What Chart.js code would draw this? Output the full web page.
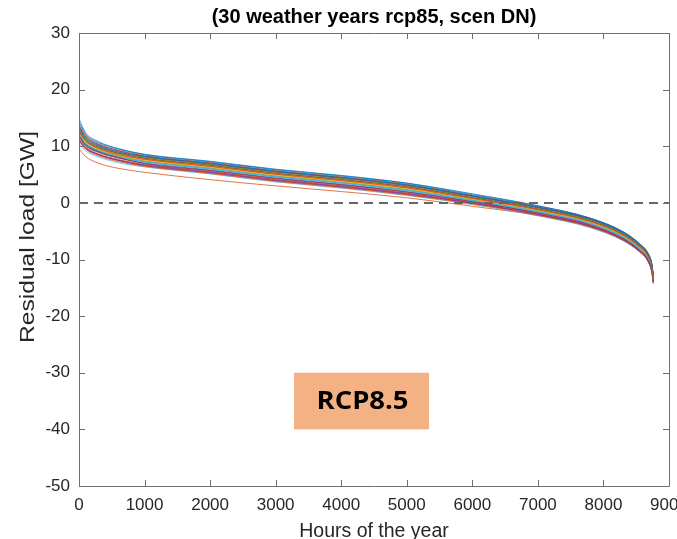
<!DOCTYPE html>
<html>
<head>
<meta charset="utf-8">
<script src="https://cdn.jsdelivr.net/npm/chart.js@4/dist/chart.umd.min.js"></script>
<style>
  html, body { margin: 0; padding: 0; background: #ffffff; }
  #wrap { width: 677px; height: 539px; position: relative; }
</style>
</head>
<body>
<div id="wrap"><canvas id="c" width="677" height="539"></canvas></div>
<script>
// Sorted residual load (duration curves), one curve per weather year
const HOURS = [0, 100, 300, 600, 1000, 2000, 3000, 4000, 5000, 6000, 7000, 7800, 8300, 8550, 8680, 8740, 8760];

const weatherYears = [
  [14.8, 12.4, 10.8, 9.6, 8.6, 7.35, 5.95, 4.85, 3.5, 1.6, -0.5, -2.7, -5.1, -7.2, -8.9, -10.9, -12.8],
  [9.6, 8.2, 7.0, 6.1, 5.4, 4.1, 3.0, 2.0, 0.9, -0.6, -2.2, -4.1, -6.4, -8.4, -10.1, -12.1, -14.3],
  [12.6, 10.9, 9.6, 8.6, 7.75, 6.5, 5.1, 4.0, 2.7, 0.85, -1.15, -3.25, -5.65, -7.75, -9.45, -11.45, -13.4],
  [11.6, 10.1, 8.9, 7.9, 7.05, 5.8, 4.4, 3.3, 2.0, 0.3, -1.7, -3.8, -6.2, -8.3, -10.0, -12.0, -13.9],
  [13.4, 11.6, 10.2, 9.1, 8.15, 6.9, 5.5, 4.4, 3.1, 1.15, -0.85, -2.95, -5.35, -7.45, -9.15, -11.15, -13.1],
  [12.9, 11.2, 9.9, 8.8, 7.95, 6.7, 5.3, 4.2, 2.9, 1.0, -1.0, -3.1, -5.5, -7.6, -9.3, -11.3, -13.2],
  [11.2, 9.7, 8.5, 7.5, 6.55, 5.3, 3.9, 2.8, 1.5, -0.1, -2.1, -4.2, -6.6, -8.6, -10.3, -12.3, -14.1],
  [12.0, 10.4, 9.2, 8.2, 7.35, 6.1, 4.7, 3.6, 2.3, 0.5, -1.5, -3.6, -6.0, -8.1, -9.8, -11.8, -13.7],
  [13.8, 11.9, 10.4, 9.3, 8.35, 7.1, 5.7, 4.6, 3.3, 1.3, -0.7, -2.8, -5.2, -7.3, -9.0, -11.0, -12.9],
  [12.3, 10.7, 9.4, 8.3, 7.45, 6.2, 4.8, 3.7, 2.4, 0.6, -1.4, -3.5, -5.9, -8.0, -9.7, -11.7, -13.6],
  [11.0, 9.6, 8.5, 7.5, 6.65, 5.4, 4.0, 2.9, 1.6, -0.05, -2.05, -4.15, -6.5, -8.6, -10.3, -12.3, -14.0],
  [12.7, 11.0, 9.7, 8.7, 7.85, 6.6, 5.2, 4.1, 2.8, 0.9, -1.1, -3.2, -5.6, -7.7, -9.4, -11.4, -13.3],
  [10.5, 9.2, 8.1, 7.1, 6.35, 5.1, 3.7, 2.6, 1.3, -0.3, -2.3, -4.4, -6.7, -8.7, -10.4, -12.4, -14.2],
  [13.1, 11.3, 10.0, 8.9, 8.05, 6.8, 5.4, 4.3, 3.0, 1.1, -0.9, -3.0, -5.4, -7.5, -9.2, -11.2, -13.2],
  [11.9, 10.3, 9.1, 8.1, 7.25, 6.0, 4.6, 3.5, 2.2, 0.45, -1.55, -3.65, -6.05, -8.15, -9.85, -11.85, -13.8],
  [12.6, 10.9, 9.6, 8.5, 7.65, 6.4, 5.0, 3.9, 2.6, 0.75, -1.25, -3.35, -5.75, -7.85, -9.55, -11.55, -13.5],
  [11.4, 9.9, 8.7, 7.7, 6.85, 5.6, 4.2, 3.1, 1.8, 0.15, -1.85, -3.95, -6.35, -8.45, -10.1, -12.1, -14.0],
  [13.6, 11.7, 10.3, 9.2, 8.25, 7.0, 5.6, 4.5, 3.2, 1.25, -0.75, -2.85, -5.25, -7.35, -9.05, -11.05, -13.0],
  [12.1, 10.5, 9.3, 8.3, 7.4, 6.15, 4.75, 3.65, 2.35, 0.55, -1.45, -3.55, -5.95, -8.05, -9.75, -11.75, -13.6],
  [11.7, 10.2, 9.0, 8.0, 7.15, 5.9, 4.5, 3.4, 2.1, 0.35, -1.65, -3.75, -6.15, -8.25, -9.95, -11.95, -13.9],
  [12.8, 11.1, 9.8, 8.8, 7.9, 6.65, 5.25, 4.15, 2.85, 0.95, -1.05, -3.15, -5.55, -7.65, -9.35, -11.35, -13.3],
  [14.2, 12.1, 10.6, 9.5, 8.5, 7.25, 5.85, 4.75, 3.45, 1.45, -0.55, -2.7, -5.1, -7.2, -8.9, -10.9, -12.7],
  [10.9, 9.5, 8.3, 7.3, 6.45, 5.2, 3.8, 2.7, 1.4, -0.2, -2.2, -4.3, -6.6, -8.6, -10.3, -12.3, -14.1],
  [12.4, 10.8, 9.5, 8.4, 7.55, 6.3, 4.9, 3.8, 2.5, 0.65, -1.35, -3.45, -5.85, -7.95, -9.65, -11.65, -13.5],
  [11.3, 9.8, 8.6, 7.6, 6.75, 5.5, 4.1, 3.0, 1.7, 0.05, -1.95, -4.05, -6.45, -8.5, -10.2, -12.2, -13.9],
  [13.0, 11.2, 9.9, 8.9, 8.0, 6.75, 5.35, 4.25, 2.95, 1.05, -0.95, -3.05, -5.45, -7.55, -9.25, -11.25, -13.2],
  [12.2, 10.6, 9.3, 8.2, 7.3, 6.05, 4.65, 3.55, 2.25, 0.5, -1.5, -3.6, -6.0, -8.1, -9.8, -11.8, -13.7],
  [11.8, 10.2, 9.0, 8.0, 6.95, 5.7, 4.3, 3.2, 1.9, 0.2, -1.8, -3.9, -6.3, -8.35, -10.05, -12.05, -13.9],
  [13.3, 11.5, 10.1, 9.0, 8.2, 6.95, 5.55, 4.45, 3.15, 1.2, -0.8, -2.9, -5.3, -7.4, -9.1, -11.1, -13.1],
  [12.5, 10.9, 9.6, 8.5, 7.7, 6.45, 5.05, 3.95, 2.65, 0.8, -1.2, -3.3, -5.7, -7.8, -9.5, -11.5, -13.5]
];

// Line colour cycle (MATLAB default order)
const LINE_COLORS = ['#0072BD', '#D95319', '#EDB120', '#7E2F8E', '#77AC30', '#4DBEEE', '#A2142F'];

const X_TICKS = [0, 1000, 2000, 3000, 4000, 5000, 6000, 7000, 8000, 9000];
const Y_TICKS = [-50, -40, -30, -20, -10, 0, 10, 20, 30];

const TITLE = '(30 weather years rcp85, scen DN)';
const X_LABEL = 'Hours of the year';
const Y_LABEL = 'Residual load [GW]';
const BOX_LABEL = 'RCP8.5';
const BOX_X = [3280, 5340];
const BOX_Y = [-30, -40];

const AXIS_COLOR = '#6f6f6f';
const TEXT_COLOR = '#262626';
const SANS = '"Liberation Sans", Arial, sans-serif';

const datasets = weatherYears.map((vals, i) => ({
  data: vals.map((v, k) => ({ x: HOURS[k], y: v })),
  borderColor: LINE_COLORS[i % LINE_COLORS.length],
  borderWidth: 0.8,
  pointRadius: 0,
  cubicInterpolationMode: 'monotone',
  order: 30 - i
}));

// zero reference line
datasets.push({
  data: [{ x: 0, y: 0 }, { x: 9000, y: 0 }],
  borderColor: '#666666',
  borderWidth: 2,
  borderDash: [9, 6],
  pointRadius: 0,
  order: -1
});

// Box frame with inward tick marks, the y-axis label and the scenario box
const framePlugin = {
  id: 'frame',
  afterDatasetsDraw(chart) {
    const { ctx, chartArea: a, scales: { x, y } } = chart;
    ctx.save();
    ctx.strokeStyle = AXIS_COLOR;
    ctx.lineWidth = 1;
    ctx.beginPath();
    ctx.rect(Math.round(a.left) + 0.5, Math.round(a.top) + 0.5,
             Math.round(a.right - a.left), Math.round(a.bottom - a.top));
    const tl = 6;
    X_TICKS.forEach(t => {
      const px = Math.round(x.getPixelForValue(t)) + 0.5;
      ctx.moveTo(px, a.bottom); ctx.lineTo(px, a.bottom - tl);
      ctx.moveTo(px, a.top); ctx.lineTo(px, a.top + tl);
    });
    Y_TICKS.forEach(t => {
      const py = Math.round(y.getPixelForValue(t)) + 0.5;
      ctx.moveTo(a.left, py); ctx.lineTo(a.left + tl, py);
      ctx.moveTo(a.right, py); ctx.lineTo(a.right - tl, py);
    });
    ctx.stroke();
    ctx.restore();

    // y-axis label, rotated
    ctx.save();
    ctx.fillStyle = TEXT_COLOR;
    ctx.font = '20px ' + SANS;
    ctx.textAlign = 'center';
    ctx.textBaseline = 'middle';
    const lw = ctx.measureText(Y_LABEL).width;
    ctx.translate(28, 237);
    ctx.rotate(-Math.PI / 2);
    ctx.scale(212 / lw, 1);
    ctx.fillText(Y_LABEL, 0, 0);
    ctx.restore();

    // scenario label box
    ctx.save();
    const x0 = x.getPixelForValue(BOX_X[0]), x1 = x.getPixelForValue(BOX_X[1]);
    const y0 = y.getPixelForValue(BOX_Y[0]), y1 = y.getPixelForValue(BOX_Y[1]);
    ctx.fillStyle = '#F4B183';
    ctx.fillRect(x0, y0, x1 - x0, y1 - y0);
    ctx.fillStyle = '#000000';
    ctx.font = 'bold 25px "Open Sans", "Noto Sans", sans-serif';
    ctx.textAlign = 'center';
    ctx.textBaseline = 'middle';
    const w = ctx.measureText(BOX_LABEL).width;
    ctx.translate((x0 + x1) / 2 + 1, (y0 + y1) / 2 + 1);
    ctx.scale(92 / w, 1);
    ctx.fillText(BOX_LABEL, 0, 0);
    ctx.restore();
  }
};

new Chart(document.getElementById('c'), {
  type: 'line',
  data: { datasets },
  options: {
    responsive: false,
    animation: false,
    events: [],
    layout: { padding: { left: 0, right: 8, top: 0, bottom: 0 } },
    plugins: {
      legend: { display: false },
      tooltip: { enabled: false },
      title: {
        display: true,
        text: TITLE,
        fullSize: false,
        color: '#000000',
        font: { family: SANS, size: 20, weight: 'bold', lineHeight: 1.2 },
        padding: { top: 5, bottom: 4 }
      }
    },
    scales: {
      x: {
        type: 'linear',
        min: 0,
        max: 9000,
        afterBuildTicks(s) { s.ticks = X_TICKS.map(v => ({ value: v })); },
        afterFit(s) { s.height = 53; s.paddingLeft = 0; s.paddingRight = 0; },
        grid: { display: false, drawTicks: false },
        border: { display: false },
        ticks: {
          color: TEXT_COLOR,
          padding: 9,
          maxRotation: 0,
          autoSkip: false,
          font: { family: SANS, size: 17 },
          callback: v => String(v)
        },
        title: {
          display: true,
          text: X_LABEL,
          color: TEXT_COLOR,
          padding: 0,
          font: { family: SANS, size: 19.5, lineHeight: 0.8 }
        }
      },
      y: {
        min: -50,
        max: 30,
        afterBuildTicks(s) { s.ticks = Y_TICKS.map(v => ({ value: v })); },
        afterFit(s) { s.width = 79; s.paddingTop = 0; s.paddingBottom = 0; },
        grid: { display: false, drawTicks: false },
        border: { display: false },
        ticks: {
          color: TEXT_COLOR,
          padding: 9,
          autoSkip: false,
          font: { family: SANS, size: 17 },
          callback: v => String(v)
        },
        title: { display: false }
      }
    }
  },
  plugins: [framePlugin]
});
</script>
</body>
</html>
